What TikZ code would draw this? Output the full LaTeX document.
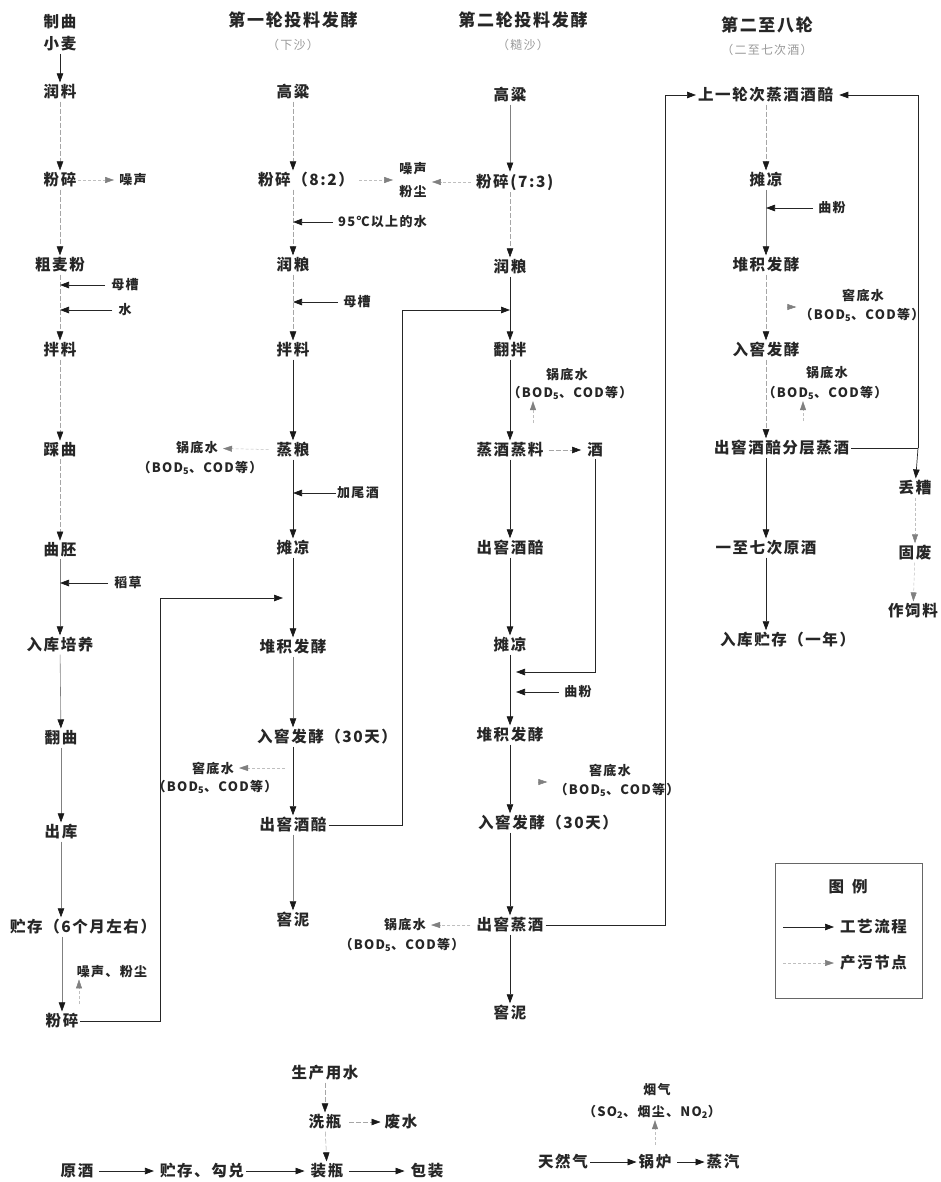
\documentclass[tikz,border=0pt]{standalone}
\usepackage{fontspec}
\setmainfont[LetterSpace=10]{Noto Sans CJK SC}
\usetikzlibrary{arrows.meta}
\begin{document}
\begin{tikzpicture}[x=1pt,y=-1pt,
  every node/.style={inner sep=2pt, text=black!85},
  lbl/.style={font=\fontsize{15.5}{18}\selectfont\bfseries},
  sml/.style={font=\fontsize{13}{15}\selectfont\bfseries, inner sep=1pt},
  ttl/.style={font=\fontsize{17}{20}\selectfont\bfseries},
  subt/.style={font=\fontsize{12}{14}\selectfont, text=black!40},
  flow/.style={draw=black!85, line width=0.7pt, -{Triangle[length=9pt,width=6.5pt,color=black!90]}},
  gflow/.style={draw=black!50, line width=0.6pt, -{Triangle[length=9pt,width=6.5pt,color=black!90]}},
  faint/.style={draw=black!35, line width=0.5pt, dash pattern=on 5pt off 2pt, -{Triangle[length=9pt,width=6.5pt,color=black!90]}},
  pol/.style={draw=black!25, line width=0.5pt, dash pattern=on 3pt off 2pt, -{Triangle[length=9pt,width=6pt,color=black!50]}},
  plain/.style={draw=black!85, line width=0.7pt},
]
\useasboundingbox (0,0) rectangle (941,1182);

% ---------- Column 1 ----------
\node[font=\fontsize{15.5}{22}\selectfont\bfseries, align=center] (zq) at (60,33) {制曲\\小麦};
\node[lbl] (rl1) at (60,92) {润料};
\node[lbl] (fs1) at (60,180) {粉碎};
\node[sml] (zs1) at (133,180) {噪声};
\node[lbl] (cmf) at (60,265) {粗麦粉};
\node[sml] (mc1) at (125,285) {母槽};
\node[sml] (sh1) at (125,310) {水};
\node[lbl] (bl1) at (60,350) {拌料};
\node[lbl] (cq) at (60,450) {踩曲};
\node[lbl] (qp) at (60,550) {曲胚};
\node[sml] (dc) at (128,583) {稻草};
\node[lbl] (rk1) at (60,645) {入库培养};
\node[lbl] (fq) at (61,738) {翻曲};
\node[lbl] (ck) at (61,832) {出库};
\node[lbl, anchor=west] (zc) at (8,927) {贮存（6个月左右）};
\node[sml] (zsfc) at (112,972) {噪声、粉尘};
\node[lbl] (fs1b) at (62,1021) {粉碎};

\draw[flow] (zq) -- (rl1);
\draw[faint] (rl1) -- (fs1);
\draw[faint] (fs1) -- (cmf);
\draw[faint] (cmf) -- (bl1);
\draw[faint] (bl1) -- (cq);
\draw[faint] (cq) -- (qp);
\draw[gflow] (qp) -- (rk1);
\draw[gflow] (rk1) -- (fq);
\draw[gflow] (fq) -- (ck);
\draw[gflow] (ck) -- (ck |- zc.north);
\draw[gflow] (zc.south -| fs1b) -- (fs1b);
\draw[pol, shorten >=4pt] (fs1) -- (zs1);
\draw[flow, shorten <=5pt] (mc1) -- (mc1 -| cmf);
\draw[flow, shorten <=5pt] (sh1) -- (sh1 -| cmf);
\draw[flow, shorten <=5pt] (dc) -- (dc -| qp);
\coordinate (p1) at (79,1004);
\draw[pol] (p1) -- (p1 |- zsfc.south);

% ---------- Column 2 ----------
\node[ttl] (t2) at (293,20) {第一轮投料发酵};
\node[subt] (s2) at (293,45) {（下沙）};
\node[lbl] (gl2) at (293,92) {高粱};
\node[lbl, anchor=west] (fs2) at (256,180) {粉碎（8:2）};
\node[font=\fontsize{13}{23}\selectfont\bfseries, inner sep=1pt, align=center] (zf2) at (413,180) {噪声\\粉尘};
\node[sml, anchor=west] (sh2) at (337,222) {95℃以上的水};
\node[lbl] (rl2) at (293,265) {润粮};
\node[sml] (mc2) at (357,302) {母槽};
\node[lbl] (bl2) at (293,350) {拌料};
\node[lbl] (zl2) at (293,450) {蒸粮};
\node[sml] (gd2a) at (197,448) {锅底水};
\node[sml] (gd2b) at (200,468) {（BOD\textsubscript{5}、COD等）};
\node[sml] (jw2) at (358,493) {加尾酒};
\node[lbl] (tl2) at (293,548) {摊凉};
\node[lbl] (dj2) at (293,647) {堆积发酵};
\node[lbl, anchor=west] (rj2) at (255,737) {入窖发酵（30天）};
\node[sml] (jd2a) at (213,768) {窖底水};
\node[sml] (jd2b) at (215,787) {（BOD\textsubscript{5}、COD等）};
\node[lbl] (cj2) at (293,825) {出窖酒醅};
\node[lbl] (jn2) at (293,920) {窖泥};

\draw[faint] (gl2) -- (gl2 |- fs2.north);
\draw[faint] (fs2.south -| gl2) -- (rl2);
\draw[faint] (rl2) -- (bl2);
\draw[flow] (bl2) -- (zl2);
\draw[flow] (zl2) -- (tl2);
\draw[flow] (tl2) -- (dj2);
\draw[gflow] (dj2) -- (dj2 |- rj2.north);
\draw[flow] (rj2.south -| cj2) -- (cj2);
\draw[gflow] (cj2) -- (jn2);
\draw[pol, shorten <=3pt, shorten >=5pt] (fs2) -- (zf2);
\draw[flow, shorten <=4pt] (sh2) -- (sh2 -| gl2);
\draw[flow, shorten <=4pt] (mc2) -- (mc2 -| gl2);
\draw[flow] (jw2) -- (jw2 -| gl2);
\draw[pol, shorten <=6pt, shorten >=4pt] (zl2) -- (gd2a);
\coordinate (p2) at (285,768);
\draw[pol, shorten >=4pt] (p2) -- (jd2a);
\coordinate (L1) at (160,598);
\draw[flow, shorten >=10pt] (fs1b) -| (L1) -- (L1 -| dj2);

% ---------- Column 3 ----------
\node[ttl] (t3) at (523,20) {第二轮投料发酵};
\node[subt] (s3) at (523,45) {（糙沙）};
\node[lbl] (gl3) at (510,95) {高粱};
\node[lbl, anchor=west] (fs3) at (474,182) {粉碎(7:3)};
\node[lbl] (rl3) at (510,267) {润粮};
\node[lbl] (fb3) at (510,350) {翻拌};
\node[sml] (gd3a) at (567,375) {锅底水};
\node[sml] (gd3b) at (570,393) {（BOD\textsubscript{5}、COD等）};
\node[lbl] (zj3) at (510,450) {蒸酒蒸料};
\node[lbl] (jiu3) at (595,450) {酒};
\node[lbl] (cj3) at (510,548) {出窖酒醅};
\node[lbl] (tl3) at (510,645) {摊凉};
\node[sml] (qf3) at (578,692) {曲粉};
\node[lbl] (dj3) at (510,735) {堆积发酵};
\node[sml] (jd3a) at (610,770) {窖底水};
\node[sml] (jd3b) at (617,790) {（BOD\textsubscript{5}、COD等）};
\node[lbl, anchor=west] (rj3) at (476,823) {入窖发酵（30天）};
\node[lbl] (cz3) at (510,925) {出窖蒸酒};
\node[sml] (gd3c) at (405,925) {锅底水};
\node[sml] (gd3d) at (402,945) {（BOD\textsubscript{5}、COD等）};
\node[lbl] (jn3) at (510,1013) {窖泥};

\draw[gflow] (gl3) -- (gl3 |- fs3.north);
\draw[faint] (fs3.south -| gl3) -- (rl3);
\draw[flow] (rl3) -- (fb3);
\draw[flow] (fb3) -- (zj3);
\draw[flow] (zj3) -- (cj3);
\draw[flow] (cj3) -- (tl3);
\draw[flow] (tl3) -- (dj3);
\draw[flow] (dj3) -- (dj3 |- rj3.north);
\draw[flow] (rj3.south -| cz3) -- (cz3);
\draw[flow] (cz3) -- (jn3);
\draw[pol, shorten <=3pt, shorten >=4pt] (fs3.west) -- (fs3.west -| zf2.east);
\coordinate (p3) at (533,423);
\draw[pol] (p3) -- (p3 |- gd3b.south);
\draw[faint, shorten <=3pt, shorten >=4pt] (zj3) -- (jiu3);
\coordinate (L3) at (595,672);
\draw[flow, shorten >=6pt] (jiu3) -- (L3) -- (L3 -| tl3);
\draw[flow, shorten <=4pt, shorten >=6pt] (qf3) -- (qf3 -| tl3);
\coordinate (p3b) at (541,782);
\draw[pol, shorten >=6pt] (p3b) -- (jd3b.west |- p3b);
\draw[pol, shorten <=4pt, shorten >=4pt] (cz3) -- (gd3c);
\coordinate (L2) at (402,310);
\draw[flow] (cj2) -| (L2) -- (L2 -| rl3);

% ---------- Column 4 ----------
\node[ttl] (t4) at (767,25) {第二至八轮};
\node[subt] (s4) at (767,50) {（二至七次酒）};
\node[lbl, anchor=west] (sy4) at (696,95) {上一轮次蒸酒酒醅};
\node[lbl] (tl4) at (766,180) {摊凉};
\node[sml] (qf4) at (832,208) {曲粉};
\node[lbl] (dj4) at (766,265) {堆积发酵};
\node[sml] (jd4a) at (863,295) {窖底水};
\node[sml] (jd4b) at (862,315) {（BOD\textsubscript{5}、COD等）};
\node[lbl] (rj4) at (766,350) {入窖发酵};
\node[sml] (gd4a) at (827,373) {锅底水};
\node[sml] (gd4b) at (825,393) {（BOD\textsubscript{5}、COD等）};
\node[lbl, anchor=west] (cj4) at (712,448) {出窖酒醅分层蒸酒};
\node[lbl] (dz4) at (915,488) {丢糟};
\node[lbl] (gf4) at (915,553) {固废};
\node[lbl] (sl4) at (913,611) {作饲料};
\node[lbl] (yq4) at (766,548) {一至七次原酒};
\node[lbl, anchor=west] (rk4) at (718,640) {入库贮存（一年）};

\draw[faint] (sy4.south -| tl4) -- (tl4);
\draw[gflow] (tl4) -- (dj4);
\draw[faint] (dj4) -- (rj4);
\draw[faint] (rj4) -- (rj4 |- cj4.north);
\draw[flow] (cj4.south -| yq4) -- (yq4);
\draw[flow] (yq4) -- (yq4 |- rk4.north);
\draw[flow, shorten <=4pt] (qf4) -- (qf4 -| tl4);
\coordinate (p4) at (795,307);
\draw[pol, shorten >=2pt] (p4) -- (jd4b.west |- p4);
\coordinate (p4b) at (803,421);
\draw[pol] (p4b) -- (p4b |- gd4b.south);
\coordinate (R4) at (918,448);
\draw[plain] (cj4) -- (R4);
\draw[flow, shorten >=4pt] (R4) |- (sy4);
\draw[flow] (R4) -- (dz4);
\draw[pol] (dz4) -- (gf4);
\draw[pol] (gf4) -- (sl4);
\coordinate (L4) at (665,95);
\draw[flow] (cz3) -| (L4) -- (sy4);

% ---------- Legend ----------
\draw[black!60, line width=0.6pt] (775,863) rectangle (922,998);
\node[lbl] (lgt) at (848,887) {图\hspace{8pt}例};
\node[lbl, anchor=west] (lg1) at (838,927) {工艺流程};
\node[lbl, anchor=west] (lg2) at (838,963) {产污节点};
\coordinate (lg1s) at (783,927);
\coordinate (lg2s) at (783,963);
\draw[flow, shorten >=4pt] (lg1s) -- (lg1);
\draw[pol, shorten >=4pt] (lg2s) -- (lg2);

% ---------- Bottom ----------
\node[lbl] (scys) at (325,1073) {生产用水};
\node[lbl] (xp) at (325,1122) {洗瓶};
\node[lbl] (fsh) at (401,1122) {废水};
\node[lbl] (zp) at (327,1171) {装瓶};
\node[lbl] (yj) at (77,1171) {原酒};
\node[lbl] (zcgd) at (202,1171) {贮存、勾兑};
\node[lbl] (bz) at (427,1171) {包装};
\node[sml] (yqa) at (657,1090) {烟气};
\node[sml] (yqb) at (652,1112) {（SO\textsubscript{2}、烟尘、NO\textsubscript{2}）};
\node[lbl] (trq) at (563,1162) {天然气};
\node[lbl] (glu) at (655,1162) {锅炉};
\node[lbl] (zqi) at (723,1162) {蒸汽};

\draw[faint] (scys) -- (xp);
\draw[faint] (xp) -- (zp);
\draw[faint, shorten <=6pt, shorten >=2pt] (xp) -- (fsh);
\draw[flow, shorten <=4pt, shorten >=4pt] (yj) -- (zcgd);
\draw[flow, shorten >=4pt] (zcgd) -- (zp);
\draw[flow, shorten <=4pt, shorten >=4pt] (zp) -- (bz);
\draw[flow] (trq) -- (glu);
\draw[flow, shorten <=4pt] (glu) -- (zqi);
\coordinate (p5) at (655,1145);
\draw[pol] (p5) -- (p5 |- yqb.south);
\end{tikzpicture}
\end{document}
